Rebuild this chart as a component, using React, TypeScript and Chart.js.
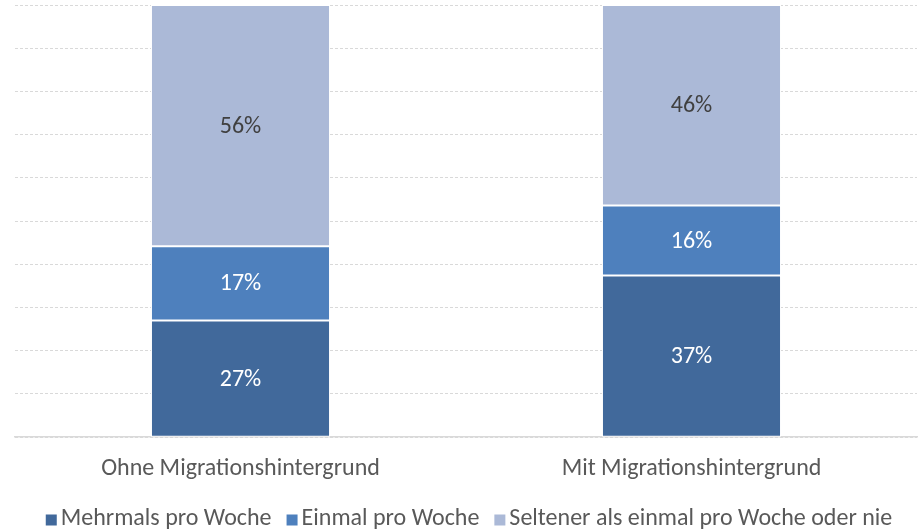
import React, { useEffect, useRef } from "react";
import { Chart, registerables } from "chart.js";

Chart.register(...registerables);

const categories = ["Ohne Migrationshintergrund", "Mit Migrationshintergrund"];
const seriesNames = ["Mehrmals pro Woche", "Einmal pro Woche", "Seltener als einmal pro Woche oder nie"];
const mehrmals = [27.0, 37.4];
const einmal = [17.2, 16.2];
const seltener = [55.8, 46.4];
const colors = ["#41699b", "#4e80bd", "#abb9d7"];
const labelColors = ["#ffffff", "#ffffff", "#404040"];

const FONT = "Carlito, Lato, 'Open Sans', sans-serif";

const dataLabelPlugin = {
  id: "dataLabels",
  afterDatasetsDraw(chart: any) {
    const ctx = chart.ctx;
    ctx.save();
    ctx.font = `24px ${FONT}`;
    ctx.textAlign = "center";
    ctx.textBaseline = "middle";
    chart.data.datasets.forEach((ds: any, i: number) => {
      const meta = chart.getDatasetMeta(i);
      meta.data.forEach((bar: any, j: number) => {
        const v = ds.data[j];
        const y = (bar.y + bar.base) / 2;
        ctx.fillStyle = labelColors[i];
        ctx.fillText(`${Math.round(v)}%`, bar.x, y + 1);
      });
    });
    ctx.restore();
  },
};

const legendPlugin = {
  id: "customLegend",
  afterDraw(chart: any) {
    const ctx = chart.ctx;
    ctx.save();
    ctx.font = `24px ${FONT}`;
    ctx.textBaseline = "middle";
    ctx.textAlign = "left";
    const box = 11;
    const gapBox = 4;
    const gapItem = 15;
    const widths = seriesNames.map((n) => ctx.measureText(n).width);
    const total =
      widths.reduce((a, b) => a + b, 0) + seriesNames.length * (box + gapBox) + (seriesNames.length - 1) * gapItem;
    let x = 469 - total / 2;
    const y = 519;
    seriesNames.forEach((n, i) => {
      ctx.fillStyle = colors[i];
      ctx.fillRect(x, y - box / 2 + 1, box, box);
      x += box + gapBox;
      ctx.fillStyle = "#595959";
      ctx.fillText(n, x, y);
      x += widths[i] + gapItem;
    });
    ctx.restore();
  },
};

export default function App() {
  const ref = useRef<HTMLCanvasElement | null>(null);
  useEffect(() => {
    if (!ref.current) return;
    const chart = new Chart(ref.current, {
      type: "bar",
      data: {
        labels: categories,
        datasets: [mehrmals, einmal, seltener].map((d, i) => ({
          label: seriesNames[i],
          data: d,
          backgroundColor: colors[i],
          borderColor: "#ffffff",
          borderWidth: 1,
          borderSkipped: false,
          barPercentage: 0.397,
          categoryPercentage: 1,
        })),
      },
      options: {
        animation: false,
        responsive: true,
        maintainAspectRatio: false,
        layout: { padding: { left: 15, right: 5, top: 5, bottom: 31 } },
        plugins: {
          legend: { display: false },
          tooltip: { enabled: false },
        },
        scales: {
          x: {
            stacked: true,
            grid: { display: false, drawTicks: false },
            border: { color: "#d9d9d9", width: 1.5 },
            ticks: { font: { family: FONT, size: 24 }, color: "#595959", padding: 17 },
          },
          y: {
            stacked: true,
            min: 0,
            max: 100,
            ticks: { display: false, stepSize: 10 },
            border: { display: false, dash: [3, 2] },
            grid: { color: "#d9d9d9", drawTicks: false },
          },
        },
      },
      plugins: [dataLabelPlugin, legendPlugin],
    });
    return () => chart.destroy();
  }, []);
  return (
    <div style={{ position: "absolute", left: 0, top: 0, width: 922, height: 531 }}>
      <canvas ref={ref} />
    </div>
  );
}
